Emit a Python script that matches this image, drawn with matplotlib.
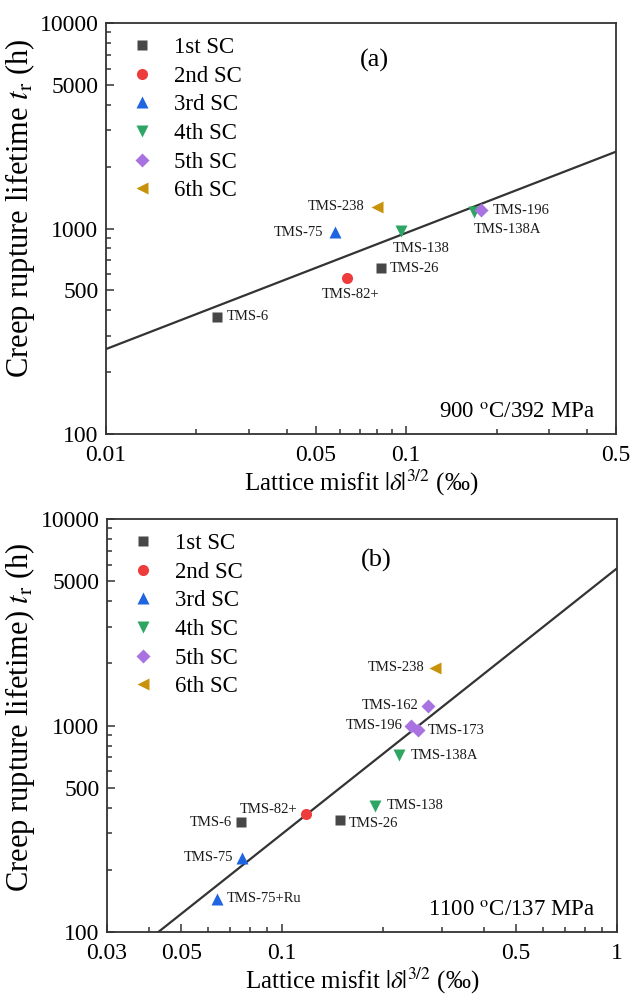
import matplotlib
matplotlib.use("Agg")
import matplotlib.pyplot as plt
import numpy as np
from matplotlib.ticker import FixedLocator, NullFormatter, LogLocator

plt.rcParams['font.family'] = ['Liberation Serif', 'DejaVu Serif']
plt.rcParams['mathtext.fontset'] = 'stix'

# ---------------- data ----------------
generations = ["1st SC", "2nd SC", "3rd SC", "4th SC", "5th SC", "6th SC"]

# Panel (a): 900 C / 392 MPa
a_names = ["TMS-6", "TMS-26", "TMS-82+", "TMS-75", "TMS-138", "TMS-138A", "TMS-196", "TMS-238"]
a_gen = [0, 0, 1, 2, 3, 3, 4, 5]
a_misfit = [0.0235, 0.0822, 0.0637, 0.058, 0.096, 0.1685, 0.178, 0.0797]
a_life = [372, 640, 576, 958, 975, 1200, 1230, 1277]
a_fit_x = [0.01, 0.5]
a_fit_y = [259, 2365]

# Panel (b): 1100 C / 137 MPa
b_names = ["TMS-6", "TMS-26", "TMS-82+", "TMS-75", "TMS-75+Ru", "TMS-138", "TMS-138A",
           "TMS-162", "TMS-196", "TMS-173", "TMS-238"]
b_gen = [0, 0, 1, 2, 2, 3, 3, 4, 4, 4, 5]
b_misfit = [0.0756, 0.1486, 0.1175, 0.076, 0.064, 0.19, 0.224, 0.2735, 0.2434, 0.2544, 0.2856]
b_life = [340, 350, 373, 229, 145, 408, 720, 1247, 998, 951, 1905]
b_fit_x = [0.0427, 1.0]
b_fit_y = [100, 5770]

# ---------------- styles ----------------
colors = ["#474747", "#ee3b3b", "#1f64e0", "#2ea564", "#a872e0", "#c8930b"]
markers = ["s", "o", "^", "v", "D", "<"]
msizes = [7.0, 8.0, 8.5, 8.5, 7.0, 8.5]

# label offsets in pixels (dx, dy, ha, va)
px = 72 / 100.0
a_off = {
    "TMS-6": (9, 0, "left", "center"),
    "TMS-26": (9, 0, "left", "center"),
    "TMS-82+": (3, -17, "center", "center"),
    "TMS-75": (-12, 0, "right", "center"),
    "TMS-138": (-8, -18, "left", "center"),
    "TMS-138A": (0, -17, "left", "center"),
    "TMS-196": (11, 0, "left", "center"),
    "TMS-238": (-12, 0, "right", "center"),
}
b_off = {
    "TMS-6": (-10, 0, "right", "center"),
    "TMS-26": (9, -4, "left", "center"),
    "TMS-82+": (-8, 4, "right", "center"),
    "TMS-75": (-9, 0, "right", "center"),
    "TMS-75+Ru": (10, 0, "left", "center"),
    "TMS-138": (11, 0, "left", "center"),
    "TMS-138A": (11, -1, "left", "center"),
    "TMS-162": (-10, 0, "right", "center"),
    "TMS-196": (-9, 0, "right", "center"),
    "TMS-173": (10, 0, "left", "center"),
    "TMS-238": (-10, 0, "right", "center"),
}

fig = plt.figure(figsize=(6.34, 9.97), dpi=100)
ax_a = fig.add_axes([106 / 634, 1 - 434 / 997, 510 / 634, 411 / 997])
ax_b = fig.add_axes([107 / 634, 1 - 932 / 997, 510 / 634, 413 / 997])


def draw(ax, names, gen, xs, ys, fx, fy, offs, xlim, xmaj, xlabels, ylabel, tag, tagy, cond):
    ax.set_xscale("log")
    ax.set_yscale("log")
    ax.plot(fx, fy, color="#333333", lw=1.6, zorder=2, clip_on=True)
    for g in range(len(generations)):
        idx = [i for i, v in enumerate(gen) if v == g]
        ax.plot([xs[i] for i in idx], [ys[i] for i in idx], linestyle="none",
                marker=markers[g], color=colors[g], ms=msizes[g], mec="none",
                label=generations[g], zorder=3)
    for i, n in enumerate(names):
        dx, dy, ha, va = offs[n]
        ax.annotate(n, (xs[i], ys[i]), xytext=(dx * px, dy * px), textcoords="offset points",
                    ha=ha, va=va, fontsize=10.5, color="#1a1a1a")
    ax.set_xlim(*xlim)
    ax.set_ylim(100, 10000)
    ax.xaxis.set_major_locator(FixedLocator(xmaj))
    ax.set_xticklabels(xlabels)
    ax.xaxis.set_minor_locator(LogLocator(base=10, subs=np.arange(2, 10)))
    ax.xaxis.set_minor_formatter(NullFormatter())
    ax.yaxis.set_major_locator(FixedLocator([100, 500, 1000, 5000, 10000]))
    ax.set_yticklabels(["100", "500", "1000", "5000", "10000"])
    ax.yaxis.set_minor_locator(LogLocator(base=10, subs=np.arange(2, 10)))
    ax.yaxis.set_minor_formatter(NullFormatter())
    ax.tick_params(which="both", direction="in", top=False, right=False, labelsize=17,
                   width=1.1, color="#333333")
    ax.tick_params(which="major", length=6)
    ax.tick_params(which="minor", length=3.5)
    ax.tick_params(axis="x", which="both", pad=8)
    ax.tick_params(axis="y", which="both", pad=5.5)
    for s in ax.spines.values():
        s.set_linewidth(1.3)
        s.set_color("#333333")
    ax.set_xlabel(r"Lattice misfit $|\delta|^{3/2}$ (‰)", fontsize=18, labelpad=1)
    ax.set_ylabel(ylabel, fontsize=22)
    ax.legend(loc="upper left", bbox_to_anchor=(0.034, 0.988), frameon=False,
              fontsize=16.5, handlelength=0.8, handletextpad=1.0, labelspacing=0.33,
              borderaxespad=0)
    ax.text(0.527, tagy, tag, transform=ax.transAxes, fontsize=19, ha="center", va="center")
    ax.text(0.958, 0.052, cond, transform=ax.transAxes, fontsize=16.5, ha="right", va="center")


draw(ax_a, a_names, a_gen, a_misfit, a_life, a_fit_x, a_fit_y, a_off,
     (0.01, 0.5), [0.01, 0.05, 0.1, 0.5], ["0.01", "0.05", "0.1", "0.5"],
     r"Creep rupture lifetime $t_\mathrm{r}$ (h)", "(a)", 0.91, r"900 $^\mathrm{o}$C/392 MPa")
draw(ax_b, b_names, b_gen, b_misfit, b_life, b_fit_x, b_fit_y, b_off,
     (0.03, 1.0), [0.03, 0.05, 0.1, 0.5, 1.0], ["0.03", "0.05", "0.1", "0.5", "1"],
     r"Creep rupture lifetime) $t_\mathrm{r}$ (h)", "(b)", 0.90, r"1100 $^\mathrm{o}$C/137 MPa")

ax_a.yaxis.set_label_coords(-0.135, 0.55)
ax_b.yaxis.set_label_coords(-0.137, 0.52)

fig.savefig("out.png", dpi=100)
